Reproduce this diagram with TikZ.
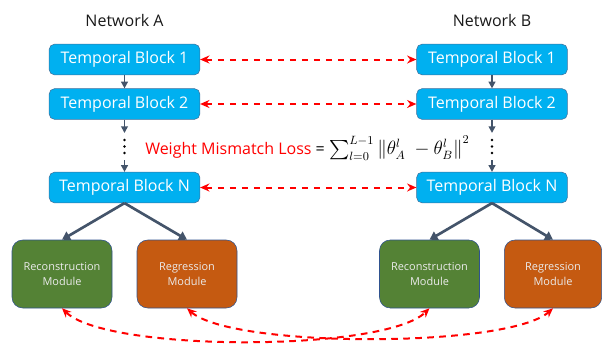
\documentclass[tikz,border=0pt]{standalone}
\usepackage{amsmath}
\usepackage{fontspec}
\setmainfont{Open Sans}
\usetikzlibrary{arrows.meta}

\definecolor{blockblue}{RGB}{0,176,240}
\definecolor{blockedge}{RGB}{65,113,156}
\definecolor{recgreen}{RGB}{84,130,53}
\definecolor{regorange}{RGB}{197,90,17}
\definecolor{modedge}{RGB}{47,82,143}
\definecolor{slate}{RGB}{68,84,106}

\tikzset{
  tblock/.style={draw=blockedge, fill=blockblue, rounded corners=4pt, text=white,
    minimum width=113pt, minimum height=23pt, inner sep=0pt,
    font=\fontsize{12}{14}\selectfont},
  module/.style={draw=modedge, rounded corners=8pt, text=white!92!black,
    minimum width=75pt, minimum height=51pt, inner sep=0pt, align=center,
    font=\fontsize{8.2}{11}\selectfont},
  netlabel/.style={font=\fontsize{12}{14}\selectfont, text=black!90},
  flow/.style={draw=slate, line width=1.3pt, -{Triangle[length=5pt,width=5pt]}},
  branch/.style={draw=slate, line width=2pt, -{Triangle[length=6pt,width=7pt]}},
  mismatch/.style={draw=red, line width=1.5pt, dash pattern=on 5pt off 4pt,
    {Stealth[length=7pt,width=6pt]}-{Stealth[length=7pt,width=6pt]}},
}

\begin{document}
\begin{tikzpicture}[x=0.75pt,y=0.75pt,yscale=-1,xscale=1]
\useasboundingbox (0,0) rectangle (602,343);

% network A
\node[netlabel] (netA) at (124.5,20) {Network A};
\node[tblock] (a1) at (124.5,59.5) {Temporal Block 1};
\node[tblock] (a2) at (124.5,104) {Temporal Block 2};
\node[tblock] (aN) at (124.5,187.5) {Temporal Block N};
\node[module, fill=recgreen] (recA) at (62,274) {Reconstruction\\Module};
\node[module, fill=regorange] (regA) at (187,274) {Regression\\Module};

% network B
\node[netlabel] (netB) at (492,20) {Network B};
\node[tblock] (b1) at (492,59.5) {Temporal Block 1};
\node[tblock] (b2) at (492,104) {Temporal Block 2};
\node[tblock] (bN) at (492,187.5) {Temporal Block N};
\node[module, fill=recgreen] (recB) at (429.5,274) {Reconstruction\\Module};
\node[module, fill=regorange, minimum width=73pt] (regB) at (553,274) {Regression\\Module};

% vertical flow
\coordinate (a2end) at (124.5,133);
\coordinate (aNstart) at (124.5,160);
\coordinate (b2end) at (492,133);
\coordinate (bNstart) at (492,160);
\draw[flow] (a1) -- (a2);
\draw[flow] (a2) -- (a2end);
\draw[flow] (aNstart) -- (aN);
\draw[flow] (b1) -- (b2);
\draw[flow] (b2) -- (b2end);
\draw[flow] (bNstart) -- (bN);
\foreach \y in {140,146.5,153} {
  \fill (124.5,\y) circle (1.4);
  \fill (492,\y) circle (1.4);
}

% heads
\draw[branch] (aN.south) -- (recA.north);
\draw[branch] (aN.south) -- (regA.north);
\draw[branch] (bN.south) -- (recB.north);
\draw[branch] (bN.south) -- (regB.north);

% mismatch between the two networks
\draw[mismatch] (a1) -- (b1);
\draw[mismatch] (a2) -- (b2);
\draw[mismatch] (aN) -- (bN);
\draw[mismatch] (recA.south) .. controls +(45,44) and +(-45,44) .. (recB.south);
\draw[mismatch] (regA.south) .. controls +(45,40) and +(-45,40) .. (regB.south);

\node[anchor=west, inner sep=0pt, font=\fontsize{12}{14}\selectfont] (loss) at (145,148)
  {\textcolor{red}{Weight Mismatch Loss} = {\fontsize{13.5}{16}\selectfont
   $\sum_{l=0}^{L-1}\left\|\theta_A^l\ -\theta_B^l\right\|^2$}};
\end{tikzpicture}
\end{document}
